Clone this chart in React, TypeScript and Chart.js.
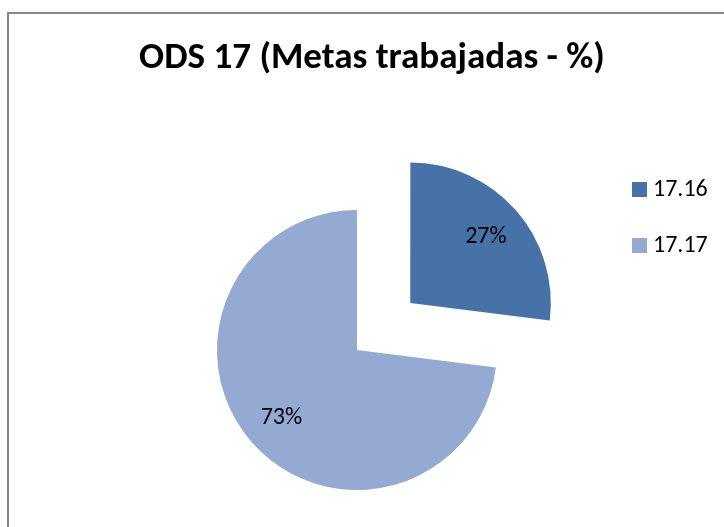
import React, { useEffect, useRef } from "react";
import { Chart, registerables } from "chart.js";

Chart.register(...registerables);

const TITLE = "ODS 17 (Metas trabajadas - %)";
const CATEGORIES = ["17.16", "17.17"];
const VALUES = [27, 73];
const PERCENT_LABELS = ["27%", "73%"];
const COLORS = ["#4672A8", "#94AAD2"];
const EXPLODE = [71, 0];

const FONT = "Carlito, Calibri, Lato, 'Liberation Sans', sans-serif";

const decorPlugin = {
  id: "decor",
  beforeDraw(chart: any) {
    const ctx = chart.ctx;
    ctx.save();
    ctx.fillStyle = "#ffffff";
    ctx.fillRect(0, 0, chart.width, chart.height);
    // frame
    ctx.fillStyle = "#878787";
    ctx.fillRect(7, 12, 2, chart.height - 12);
    ctx.fillRect(7, 12, chart.width - 7, 2);
    // title, fitted to the reference width
    let size = 34;
    ctx.font = `bold ${size}px ${FONT}`;
    const w = ctx.measureText(TITLE).width;
    size = size * 466 / w;
    ctx.font = `bold ${size}px ${FONT}`;
    ctx.fillStyle = "#000000";
    ctx.textAlign = "center";
    ctx.textBaseline = "alphabetic";
    ctx.fillText(TITLE, 372, 68);
    ctx.restore();
  },
  afterDatasetsDraw(chart: any) {
    const ctx = chart.ctx;
    const meta = chart.getDatasetMeta(0);
    ctx.save();
    ctx.fillStyle = "#000000";
    ctx.font = `24px ${FONT}`;
    ctx.textAlign = "center";
    ctx.textBaseline = "middle";
    meta.data.forEach((arc: any, i: number) => {
      const mid = (arc.startAngle + arc.endAngle) / 2;
      const off = (arc.options.offset || 0) / 4;
      const r = arc.outerRadius * 0.72 + off;
      const x = arc.x + Math.cos(mid) * r;
      const y = arc.y + Math.sin(mid) * r;
      ctx.fillText(PERCENT_LABELS[i], x, y + 1);
    });
    // legend
    const lx = 632;
    const ly0 = 182;
    const step = 56;
    ctx.textAlign = "left";
    CATEGORIES.forEach((c, i) => {
      const y = ly0 + i * step;
      ctx.fillStyle = COLORS[i];
      ctx.fillRect(lx, y, 15, 15);
      ctx.fillStyle = "#000000";
      ctx.fillText(c, lx + 21, y + 8);
    });
    ctx.restore();
  },
};

export default function App() {
  const ref = useRef<HTMLCanvasElement | null>(null);
  useEffect(() => {
    document.body.style.margin = "0";
    if (!ref.current) return;
    const chart = new Chart(ref.current, {
      type: "pie",
      data: {
        labels: CATEGORIES,
        datasets: [
          {
            data: VALUES,
            backgroundColor: COLORS,
            borderWidth: 0,
            offset: EXPLODE.map((e) => e * 4),
            hoverOffset: 0,
          } as any,
        ],
      },
      options: {
        responsive: false,
        devicePixelRatio: 1,
        animation: false,
        radius: 140,
        rotation: 0,
        layout: { padding: { left: 157, right: 167, top: 180, bottom: 7 } },
        plugins: {
          legend: { display: false },
          title: { display: false },
          tooltip: { enabled: false },
        },
        events: [],
      } as any,
      plugins: [decorPlugin],
    });
    return () => chart.destroy();
  }, []);
  return (
    <div style={{ width: 724, height: 527 }}>
      <canvas ref={ref} width={724} height={527} style={{ display: "block" }} />
    </div>
  );
}
